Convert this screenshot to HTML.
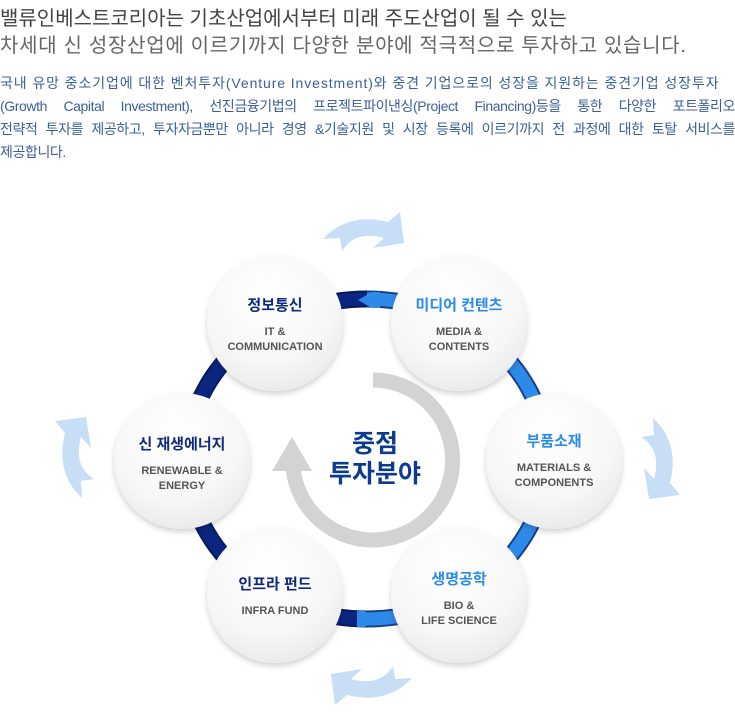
<!DOCTYPE html>
<html><head><meta charset="utf-8"><style>
body{margin:0;width:735px;height:717px;background:#fff;overflow:hidden;font-family:"Liberation Sans","Noto Sans CJK KR",sans-serif;}
.h1{position:absolute;left:0;top:2px;font-size:20px;color:#444;letter-spacing:0;}
.h2{position:absolute;left:0;top:29px;font-size:20px;color:#666;letter-spacing:0.7px;}
.body{position:absolute;left:0;top:72px;width:735px;font-size:14px;color:#3b5f9a;line-height:23px;letter-spacing:-0.4px;}
.body div{white-space:nowrap;}
.body div.j{text-align:justify;text-align-last:justify;}
</style></head><body>
<div class="h1">밸류인베스트코리아는 기초산업에서부터 미래 주도산업이 될 수 있는</div>
<div class="h2">차세대 신 성장산업에 이르기까지 다양한 분야에 적극적으로 투자하고 있습니다.</div>
<div class="body">
<div style="letter-spacing:0.9px">국내 유망 중소기업에 대한 벤처투자(Venture Investment)와 중견 기업으로의 성장을 지원하는 중견기업 성장투자</div>
<div class="j">(Growth Capital Investment), 선진금융기법의 프로젝트파이낸싱(Project Financing)등을 통한 다양한 포트폴리오</div>
<div class="j">전략적 투자를 제공하고, 투자자금뿐만 아니라 경영 &amp;기술지원 및 시장 등록에 이르기까지 전 과정에 대한 토탈 서비스를</div>
<div>제공합니다.</div>
</div>
<svg width="735" height="717" style="position:absolute;left:0;top:0" xmlns="http://www.w3.org/2000/svg">
<defs>
<radialGradient id="cg" cx="0.45" cy="0.3" r="0.8"><stop offset="0" stop-color="#ffffff"/><stop offset="0.6" stop-color="#f7f7f7"/><stop offset="1" stop-color="#e6e6e6"/></radialGradient>
<filter id="sh" x="-20%" y="-20%" width="140%" height="150%"><feDropShadow dx="0" dy="3" stdDeviation="3" flood-color="#000" flood-opacity="0.18"/></filter>
<path id="oa" d="M-40,7 Q-15,-20 25,-10 L37,-20 L41,11 L10,16 L21,6 Q-8,-2 -21,19 L-23,6 Z" fill="#c8def6"/>
</defs>
<use href="#oa" transform="translate(363,232)"/>
<use href="#oa" transform="translate(660,458) rotate(90)"/>
<use href="#oa" transform="translate(372,685) rotate(180)"/>
<use href="#oa" transform="translate(75,458) rotate(270)"/>
<path d="M367,299 A180,160 0 0 1 367,619" fill="none" stroke="#1a3f8a" stroke-width="17"/>
<path d="M367,299 A180,160 0 0 1 367,619" fill="none" stroke="#2e8ae8" stroke-width="13"/>
<path d="M367,619 A180,160 0 0 1 367,299" fill="none" stroke="#061a5e" stroke-width="17"/>
<path d="M367,619 A180,160 0 0 1 367,299" fill="none" stroke="#0b2580" stroke-width="13"/>
<path d="M372,292 L358,300 L372,308 L380,308 L380,292 Z" fill="#2e8ae8"/>
<path d="M365,611 L378,619 L365,627 L357,627 L357,611 Z" fill="#2e8ae8"/>
<path d="M373,380 A80,80 0 1 1 293,468" fill="none" stroke="#d3d3d3" stroke-width="15"/>
<polygon points="272,471 312,471 292,437" fill="#d3d3d3"/>
<text x="375" y="452" text-anchor="middle" font-size="25" font-weight="bold" fill="#0c3a8f" font-family="Liberation Sans,Noto Sans CJK KR,sans-serif">중점</text>
<text x="375" y="482" text-anchor="middle" font-size="25" font-weight="bold" fill="#0c3a8f" font-family="Liberation Sans,Noto Sans CJK KR,sans-serif">투자분야</text>
<g font-family="Liberation Sans,Noto Sans CJK KR,sans-serif" text-anchor="middle">
<g transform="translate(275,323)"><circle r="68" fill="url(#cg)" filter="url(#sh)"/><text y="-13" font-size="15" font-weight="bold" fill="#0f2a7a">정보통신</text><text y="12" font-size="11" font-weight="bold" fill="#555">IT &amp;</text><text y="27" font-size="11" font-weight="bold" fill="#555">COMMUNICATION</text></g>
<g transform="translate(459,323)"><circle r="68" fill="url(#cg)" filter="url(#sh)"/><text y="-13" font-size="15" font-weight="bold" fill="#2a8be8">미디어 컨텐츠</text><text y="12" font-size="11" font-weight="bold" fill="#555">MEDIA &amp;</text><text y="27" font-size="11" font-weight="bold" fill="#555">CONTENTS</text></g>
<g transform="translate(554,461)"><circle r="68" fill="url(#cg)" filter="url(#sh)"/><text y="-15" font-size="15" font-weight="bold" fill="#2a8be8">부품소재</text><text y="10" font-size="11" font-weight="bold" fill="#555">MATERIALS &amp;</text><text y="25" font-size="11" font-weight="bold" fill="#555">COMPONENTS</text></g>
<g transform="translate(459,595)"><circle r="68" fill="url(#cg)" filter="url(#sh)"/><text y="-11" font-size="15" font-weight="bold" fill="#2a8be8">생명공학</text><text y="14" font-size="11" font-weight="bold" fill="#555">BIO &amp;</text><text y="29" font-size="11" font-weight="bold" fill="#555">LIFE SCIENCE</text></g>
<g transform="translate(275,595)"><circle r="68" fill="url(#cg)" filter="url(#sh)"/><text y="-6" font-size="15" font-weight="bold" fill="#0f2a7a">인프라 펀드</text><text y="19" font-size="11" font-weight="bold" fill="#555">INFRA FUND</text></g>
<g transform="translate(182,461)"><circle r="68" fill="url(#cg)" filter="url(#sh)"/><text y="-12" font-size="15" font-weight="bold" fill="#0f2a7a">신 재생에너지</text><text y="13" font-size="11" font-weight="bold" fill="#555">RENEWABLE &amp;</text><text y="28" font-size="11" font-weight="bold" fill="#555">ENERGY</text></g>
</g>
</svg>
</body></html>
